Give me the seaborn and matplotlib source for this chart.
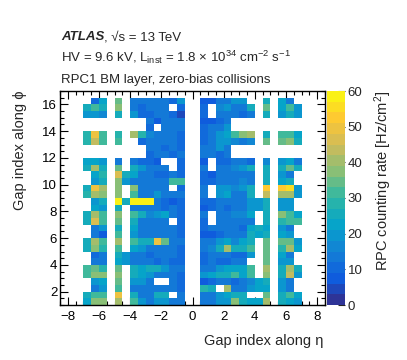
import numpy as np
import pandas as pd
import matplotlib
matplotlib.use("Agg")
import matplotlib.pyplot as plt
import seaborn as sns
from matplotlib.colors import LinearSegmentedColormap, ListedColormap
from matplotlib.ticker import MultipleLocator

N = np.nan

# Gap index along eta: bin centres (columns), and along phi: bin centres (rows)
eta_centers = [-6.75, -6.25, -5.75, -5.25, -4.75, -4.25, -3.75, -3.25, -2.75, -2.25,
               -1.75, -1.25, -0.75, -0.25, 0.25, 0.75, 1.25, 1.75, 2.25, 2.75,
               3.25, 3.75, 4.25, 4.75, 5.25, 5.75, 6.25, 6.75]
eta_edges = [-7.0 + 0.5 * i for i in range(29)]
phi_edges = [1.0 + 0.5 * k for k in range(32)]

# RPC counting rate [Hz/cm^2], one list per phi row (columns follow eta_centers)
phi_16_25 = [N, 10, 22, N, 35, N, 14, 12, 12, 14, 14, 10, 20, N, N, 8, 8, 12, 12, 20, 20, N, N, 26, N, 22, 14, N]
phi_15_75 = [24, 30, 26, N, 36, N, 14, 9, 12, 13, 12, N, 10, N, N, 10, N, 16, 18, 14, 12, 26, N, 34, N, 22, 30, 20]
phi_15_25 = [20, 20, 16, N, 24, N, 18, 10, 10, 12, 12, 10, 5, N, N, 10, N, 12, 12, 12, 10, 12, N, 24, N, 20, 24, 18]
phi_14_75 = [N, N, N, N, N, N, N, N, 12, 8, 12, 14, 12, N, N, 8, 8, 10, 12, N, N, N, N, N, N, N, N, N]
phi_14_25 = [N, N, N, N, N, N, N, N, 10, N, 14, 12, 12, N, N, 10, 12, 12, 18, N, N, N, N, N, N, N, N, N]
phi_13_75 = [28, 50, 30, N, 27, N, 40, 28, 16, 14, 12, 12, 10, N, N, 10, 12, 20, 22, 30, 36, 40, N, 26, N, 30, 30, 22]
phi_13_25 = [28, 42, 32, N, 32, N, N, 10, 12, 14, 12, 12, 10, N, N, 10, 12, 18, 18, 16, 12, 16, N, 34, N, 34, 36, 24]
phi_12_75 = [N, N, N, N, N, N, N, N, 12, 12, 10, 12, 10, N, N, 12, 12, 18, 14, N, N, N, N, N, N, N, N, N]
phi_12_25 = [N, N, N, N, N, N, N, N, 10, 12, 12, 10, 12, N, N, 12, 14, 10, 14, N, N, N, N, N, N, N, N, N]
phi_11_75 = [22, 22, 20, N, 14, N, 12, 10, 10, 8, N, N, 10, N, N, 6, N, 10, 10, 12, 12, 10, N, 16, N, 20, 22, 14]
phi_11_25 = [26, 40, 26, N, 34, N, 24, 18, 14, 12, 12, N, 10, N, N, 12, N, 12, 12, 16, 20, 24, N, 26, N, 24, 34, 26]
phi_10_75 = [N, 22, 28, N, 46, 26, 22, 12, 12, 10, 10, 12, 10, N, N, 10, 6, 12, 12, 12, 12, 14, N, 24, N, 20, 14, N]
phi_10_25 = [N, 18, 24, N, 36, 18, 14, 12, 12, 12, 14, 30, 32, N, N, 10, 10, 12, 14, 14, 16, 12, N, 24, N, 22, 26, N]
phi_09_75 = [26, 48, 40, N, 36, N, 36, 12, 12, 12, 14, N, 10, N, N, 12, N, 20, 18, 16, 20, 26, N, 52, N, 52, 54, 18]
phi_09_25 = [28, 40, 36, N, 38, N, 30, 14, 14, 18, 14, 12, 12, N, N, 12, N, 18, 22, 14, 14, 24, N, 44, N, 40, 40, 20]
phi_08_75 = [N, 18, 24, N, 60, 26, 60, 60, 58, 12, 10, 6, 10, N, N, 10, 10, 12, 12, 12, 12, 20, 18, 26, N, 18, 18, N]
phi_08_25 = [N, 22, 20, N, 26, N, 14, 12, 12, 12, 10, 12, 10, N, N, 7, 10, 12, 10, 12, 12, 18, 18, 26, N, 20, 18, N]
phi_07_75 = [26, 40, 30, N, 38, N, 32, 24, 16, 20, 22, 14, 10, N, N, 12, N, 12, 14, 16, 16, 22, N, 24, N, 38, 30, 22]
phi_07_25 = [24, 46, 30, N, 34, N, 24, 14, 12, 14, 12, N, 10, N, N, 10, N, 12, 12, 12, 12, 14, N, 26, N, 28, 30, 32]
phi_06_75 = [N, 12, 18, N, 26, N, 22, 14, 12, 14, 12, 12, 10, N, N, 10, 12, 12, 12, 12, 10, 22, 24, 22, N, 18, 14, N]
phi_06_25 = [N, 14, 8, N, 32, N, 18, 12, 12, 12, 12, 12, 10, N, N, 7, 8, 10, 12, 12, 12, 24, 22, 24, N, 22, 18, N]
phi_05_75 = [26, 40, 30, N, 40, N, 30, 24, 26, 48, 34, 14, 12, N, N, 12, 12, 18, 22, 16, 22, 26, N, 34, N, 34, 34, 20]
phi_05_25 = [26, 36, 28, N, 32, N, 22, 18, 14, 12, 14, 12, 10, N, N, 12, 16, 24, 40, 24, 26, 30, N, 34, N, 28, 40, 22]
phi_04_75 = [N, 10, 14, N, 26, 18, 14, 12, 10, 12, 12, 12, 10, N, N, 10, 12, 12, 12, 10, 10, 20, N, 34, N, 22, 14, N]
phi_04_25 = [N, 12, 14, N, 22, 20, 14, 12, 12, 10, 12, 10, 10, N, N, 10, 12, 10, 10, 12, 12, N, N, 34, N, 20, 18, N]
phi_03_75 = [30, 34, 28, N, 34, N, 24, 22, 26, 24, 20, 14, 12, N, N, 12, 12, 18, 22, 22, 22, 30, N, 40, N, 24, 40, 26]
phi_03_25 = [30, 38, 38, N, 36, N, 24, 22, 20, 14, 14, 12, 10, N, N, 20, 22, 24, 26, 32, 22, 30, N, 38, N, 26, 42, 20]
phi_02_75 = [N, 18, 22, N, 34, N, 18, 18, 12, N, N, 14, 10, N, N, 8, 10, 12, 12, 10, 12, 16, 22, 24, N, 20, 14, N]
phi_02_25 = [N, 14, 18, N, 30, N, 14, 12, 12, 12, 12, 12, 10, N, N, 28, 24, N, 40, 14, 14, 20, 22, 22, N, 20, 14, N]
phi_01_75 = [24, 30, 30, N, 48, N, 24, 14, 12, 24, 24, N, 12, N, N, 14, 12, 20, 22, 24, 24, N, N, 34, N, 24, 32, 22]
phi_01_25 = [22, 38, 36, N, 40, N, 32, 18, 14, 20, 18, 12, 12, N, N, 12, 14, 20, 18, 38, 26, 22, 22, 40, N, 24, 22, 20]

phi_rows = {
    1.25: phi_01_25, 1.75: phi_01_75, 2.25: phi_02_25, 2.75: phi_02_75,
    3.25: phi_03_25, 3.75: phi_03_75, 4.25: phi_04_25, 4.75: phi_04_75,
    5.25: phi_05_25, 5.75: phi_05_75, 6.25: phi_06_25, 6.75: phi_06_75,
    7.25: phi_07_25, 7.75: phi_07_75, 8.25: phi_08_25, 8.75: phi_08_75,
    9.25: phi_09_25, 9.75: phi_09_75, 10.25: phi_10_25, 10.75: phi_10_75,
    11.25: phi_11_25, 11.75: phi_11_75, 12.25: phi_12_25, 12.75: phi_12_75,
    13.25: phi_13_25, 13.75: phi_13_75, 14.25: phi_14_25, 14.75: phi_14_75,
    15.25: phi_15_25, 15.75: phi_15_75, 16.25: phi_16_25,
}

records = []
for phi, vals in phi_rows.items():
    assert len(vals) == len(eta_centers)
    for eta, v in zip(eta_centers, vals):
        if not np.isnan(v):
            records.append((eta, phi, v))
df = pd.DataFrame(records, columns=["eta", "phi", "rate"])

# ROOT kBird palette, 20 contour levels
stops = [0.0, 0.125, 0.25, 0.375, 0.5, 0.625, 0.75, 0.875, 1.0]
red = [0.2082, 0.0592, 0.0780, 0.0232, 0.1802, 0.5301, 0.8186, 0.9956, 0.9764]
green = [0.1664, 0.3599, 0.5041, 0.6419, 0.7178, 0.7492, 0.7328, 0.7862, 0.9832]
blue = [0.5293, 0.8684, 0.8385, 0.7914, 0.6425, 0.4662, 0.3499, 0.1968, 0.0539]
bird = LinearSegmentedColormap.from_list("bird", list(zip(stops, zip(red, green, blue))))
cmap = ListedColormap([bird((i + 0.5) / 20) for i in range(20)])

sns.set_style("ticks")
FAM = ["Liberation Sans", "DejaVu Sans"]
plt.rcParams["font.family"] = FAM
plt.rcParams["mathtext.fontset"] = "custom"
plt.rcParams["mathtext.rm"] = "Liberation Sans"
plt.rcParams["mathtext.it"] = "Liberation Sans:italic"
plt.rcParams["mathtext.bf"] = "Liberation Sans:bold"

W, H = 407, 360
fig = plt.figure(figsize=(W / 100, H / 100), dpi=100)
ax = fig.add_axes([60 / W, 55 / H, 265 / W, 214 / H])
cax = fig.add_axes([327 / W, 55 / H, 18 / W, 214 / H])

sns.histplot(data=df, x="eta", y="phi", weights="rate",
             bins=[eta_edges, phi_edges], cmap=cmap, vmin=0, vmax=60,
             cbar=True, cbar_ax=cax, ax=ax)

ax.set_xlim(-8.5, 8.5)
ax.set_ylim(1, 17)
ax.xaxis.set_major_locator(MultipleLocator(2))
ax.xaxis.set_minor_locator(MultipleLocator(0.5))
ax.yaxis.set_major_locator(MultipleLocator(2))
ax.yaxis.set_minor_locator(MultipleLocator(0.5))
ax.set_yticks([2, 4, 6, 8, 10, 12, 14, 16])
ax.set_ylim(1, 17)
ax.tick_params(which="both", direction="in", top=True, right=True,
               labelsize=9.5, colors="black")
ax.tick_params(which="major", length=6, width=0.8)
ax.tick_params(which="minor", length=3, width=0.8)
ax.tick_params(axis="x", pad=4)
ax.tick_params(axis="y", pad=2)
for s in ax.spines.values():
    s.set_visible(True)
    s.set_color("black")
    s.set_linewidth(1.0)
ax.set_xlabel("")
ax.set_ylabel("")

mesh = ax.collections[0]
cb = mesh.colorbar
cb.set_ticks([0, 10, 20, 30, 40, 50, 60])
cb.outline.set_visible(False)
cax.tick_params(direction="in", length=5, width=0.8, labelsize=9.5, pad=2)

# Axis titles
fig.text(323 / W, 1 - 341 / H, "Gap index along η", ha="right", va="center",
         fontsize=10.5, family=FAM)
fig.text(20 / W, 1 - 91 / H, "Gap index along ϕ", ha="center", va="top",
         rotation=90, fontsize=10.5, family=FAM)
fig.text(383 / W, 1 - 91 / H, "RPC counting rate [Hz/cm$^{2}$]", ha="center",
         va="top", rotation=90, fontsize=10.5, family=FAM)

# Header
t1 = fig.text(61 / W, 1 - 40 / H, "ATLAS", fontsize=9.5, fontweight="bold",
              fontstyle="italic", ha="left", va="baseline", family=FAM)
fig.canvas.draw()
bb = t1.get_window_extent()
fig.text(bb.x1 / W, 1 - 40 / H, ", √s = 13 TeV", fontsize=9.5, ha="left",
         va="baseline", family=FAM)
fig.text(61 / W, 1 - 61.5 / H,
         r"HV = 9.6 kV, L$_{\mathrm{inst}}$ = 1.8 × 10$^{34}$ cm$^{-2}$ s$^{-1}$",
         fontsize=9.5, ha="left", va="baseline", family=FAM)
fig.text(61 / W, 1 - 83 / H, "RPC1 BM layer, zero-bias collisions",
         fontsize=9.5, ha="left", va="baseline", family=FAM)

fig.savefig("out.png", dpi=100)
